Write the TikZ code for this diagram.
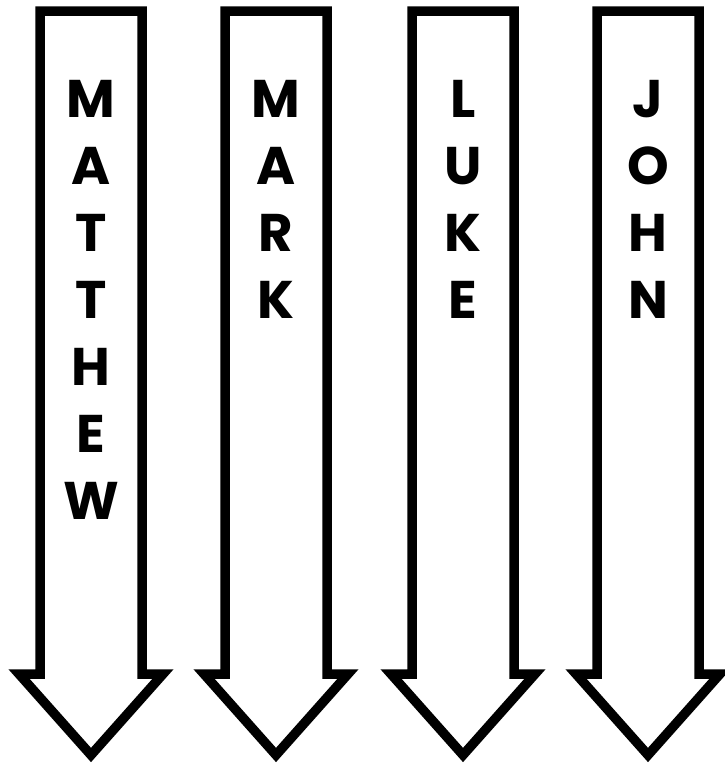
\documentclass[tikz,border=0pt]{standalone}
\usepackage{fontspec}
\newfontfamily\popfont{Poppins}
\tikzset{
  arrowshape/.style={draw=black, fill=white, line width=9.5pt, line join=miter, miter limit=20},
  letter/.style={anchor=base, inner sep=0pt, font=\popfont\bfseries\fontsize{53}{53}\selectfont}
}
\newcommand\gospelword[3]{%
  \foreach \l [count=\i from 0] in {#3} {
    \node[letter] (#1-\i) at (#2, 117+67*\i) {\l};
  }}
\begin{document}
\begin{tikzpicture}[x=1pt,y=-1pt]
\useasboundingbox (0,0) rectangle (724,763);
\foreach \c in {91,276,463,648} {
  \draw[arrowshape] (\c-51,11) -- (\c+51,11) -- (\c+51,674) -- (\c+72,674)
     -- (\c,755) -- (\c-72,674) -- (\c-51,674) -- cycle;
}
\gospelword{matthew}{91}{M,A,T,T,H,E,W}
\gospelword{mark}{276}{M,A,R,K}
\gospelword{luke}{463}{L,U,K,E}
\gospelword{john}{648}{J,O,H,N}
\end{tikzpicture}
\end{document}
